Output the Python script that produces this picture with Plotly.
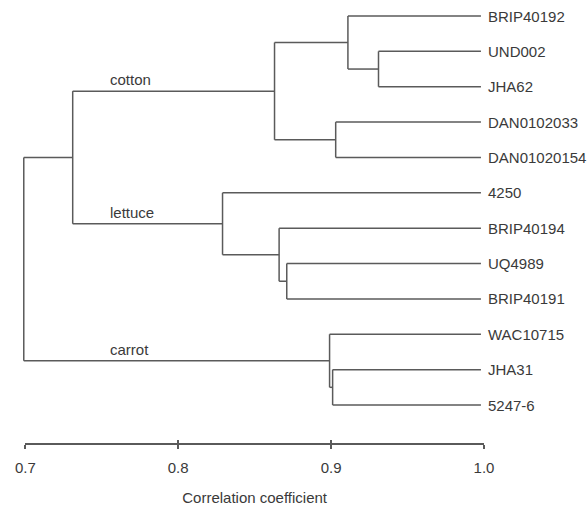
import plotly.graph_objects as go

# ---- data ----
leaves = ["BRIP40192", "UND002", "JHA62", "DAN0102033", "DAN01020154",
          "4250", "BRIP40194", "UQ4989", "BRIP40191",
          "WAC10715", "JHA31", "5247-6"]
leaf_tip = 0.998
# merges: (name, left child, right child, correlation at join)
merge_names = ["n0", "n1", "n2", "cotton", "n4", "n5", "lettuce", "n7", "carrot", "n9", "root"]
merge_left = ["UND002", "BRIP40192", "DAN0102033", "n1", "UQ4989", "BRIP40194", "4250", "JHA31", "WAC10715", "cotton", "n9"]
merge_right = ["JHA62", "n0", "DAN01020154", "n2", "BRIP40191", "n4", "n5", "5247-6", "n7", "lettuce", "carrot"]
merge_height = [0.931, 0.911, 0.903, 0.863, 0.871, 0.866, 0.829, 0.901, 0.899, 0.731, 0.699]
group_labels = ["cotton", "lettuce", "carrot"]
tick_vals = [0.7, 0.8, 0.9, 1.0]
tick_text = ["0.7", "0.8", "0.9", "1.0"]
axis_title = "Correlation coefficient"

# ---- build dendrogram segments ----
pos_y = {name: i for i, name in enumerate(leaves)}
pos_x = {name: leaf_tip for name in leaves}
xs, ys = [], []
for name, a, b, h in zip(merge_names, merge_left, merge_right, merge_height):
    ya, yb = pos_y[a], pos_y[b]
    xs += [h, h, None]; ys += [ya, yb, None]
    xs += [h, pos_x[a], None]; ys += [ya, ya, None]
    xs += [h, pos_x[b], None]; ys += [yb, yb, None]
    pos_y[name] = (ya + yb) / 2
    pos_x[name] = h

LINE = "#5a5a5a"
TXT = "#3a3a3a"
FONT = "Arial, Liberation Sans, sans-serif"

fig = go.Figure()
fig.add_trace(go.Scatter(x=xs, y=ys, mode="lines",
                         line=dict(color=LINE, width=1.5),
                         hoverinfo="skip", showlegend=False))

for i, name in enumerate(leaves):
    fig.add_annotation(x=leaf_tip, y=i, text=name, showarrow=False,
                       xanchor="left", yanchor="middle", xshift=5,
                       font=dict(family=FONT, size=15, color=TXT))

for g in group_labels:
    fig.add_annotation(x=0.7541, y=pos_y[g], text=g, showarrow=False,
                       xanchor="left", yanchor="bottom", yshift=1,
                       font=dict(family=FONT, size=15, color=TXT))

W, H = 587, 508
px0, px1 = 25.3, 484.0          # pixel positions of 0.7 and 1.0
scale = (px1 - px0) / 0.3
x_lo = 0.7 - px0 / scale
x_hi = 0.7 + (W - px0) / scale
sp = (405 - 16) / 11.0
y_top = -16 / sp
y_bot = (H - 16) / sp
axis_pos = (H - 444) / H

common = dict(range=[0.7, 1.0], domain=[px0 / W, px1 / W], anchor="free",
              position=axis_pos, tickvals=tick_vals, showgrid=False,
              zeroline=False, fixedrange=True, automargin=False)
fig.update_layout(
    width=W, height=H,
    margin=dict(l=0, r=0, t=0, b=0, autoexpand=False),
    paper_bgcolor="white", plot_bgcolor="rgba(0,0,0,0)",
    showlegend=False,
    xaxis=dict(range=[x_lo, x_hi], domain=[0, 1], visible=False, fixedrange=True,
               automargin=False),
    yaxis=dict(range=[y_bot, y_top], domain=[0, 1], visible=False, fixedrange=True,
               automargin=False),
    xaxis2=dict(**common, showline=True, linecolor=LINE, linewidth=1.5,
                ticks="outside", ticklen=4, tickwidth=1.5, tickcolor=LINE,
                ticktext=tick_text,
                tickfont=dict(family=FONT, size=15, color=TXT),
                ticklabelstandoff=6,
                title=dict(text=axis_title, font=dict(family=FONT, size=15, color=TXT),
                           standoff=17)),
    xaxis3=dict(**common, showline=False, ticks="inside", ticklen=4,
                tickwidth=1.5, tickcolor=LINE, showticklabels=False),
)
fig.add_trace(go.Scatter(x=[0.7], y=[0], xaxis="x2", mode="markers",
                         marker=dict(opacity=0), hoverinfo="skip", showlegend=False))
fig.add_trace(go.Scatter(x=[0.7], y=[0], xaxis="x3", mode="markers",
                         marker=dict(opacity=0), hoverinfo="skip", showlegend=False))

fig.write_html("out.html")
